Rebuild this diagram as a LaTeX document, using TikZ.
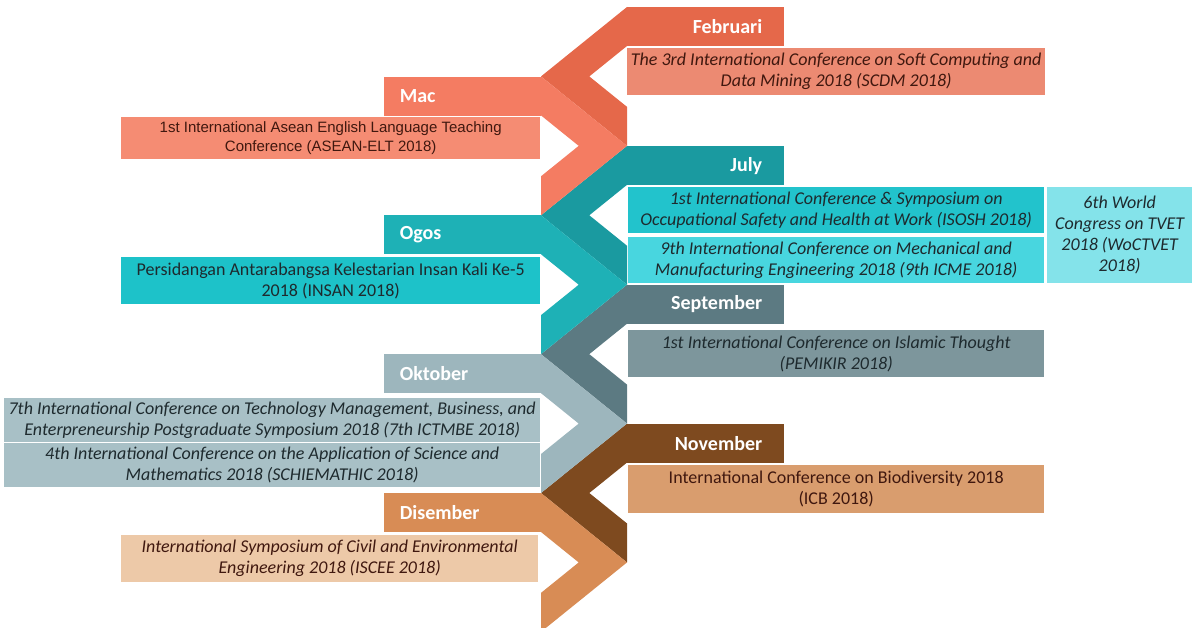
\documentclass[tikz,border=0pt]{standalone}
\usepackage{fontspec}
\setmainfont{Carlito}
\newfontfamily\arialfont{Liberation Sans}
\usetikzlibrary{positioning}

\definecolor{febC}{HTML}{E5684A}
\definecolor{macC}{HTML}{F47C62}
\definecolor{julC}{HTML}{1A9AA0}
\definecolor{ogoC}{HTML}{1EB1B6}
\definecolor{sepC}{HTML}{5C7A82}
\definecolor{oktC}{HTML}{9DB6BD}
\definecolor{novC}{HTML}{7E4A1F}
\definecolor{disC}{HTML}{D88C55}
\definecolor{febbox}{HTML}{EC8A72}
\definecolor{macbox}{HTML}{F58C73}
\definecolor{julboxA}{HTML}{22C3CC}
\definecolor{julboxB}{HTML}{48D6DF}
\definecolor{wocbox}{HTML}{84E3EA}
\definecolor{ogobox}{HTML}{1DC2C9}
\definecolor{sepbox}{HTML}{7D969C}
\definecolor{oktbox}{HTML}{A8C0C6}
\definecolor{novbox}{HTML}{D99D6E}
\definecolor{disbox}{HTML}{EDC9A8}
\definecolor{warmtext}{HTML}{40180F}
\definecolor{coldtext}{HTML}{1E2A2E}

\begin{document}
\begin{tikzpicture}[
  x=1pt, y=-1pt,
  mtab/.style={minimum height=39pt, minimum width=157pt, inner sep=0pt,
    font=\fontsize{20}{22}\selectfont\bfseries, text=white},
  rtab/.style={mtab, anchor=north west, text width=113pt, inner xsep=22pt, align=right},
  ltab/.style={mtab, anchor=north east, text width=125pt, inner xsep=16pt, align=left},
  ebox/.style={anchor=north west, inner sep=0pt, align=center, text=coldtext,
    font=\fontsize{18}{21}\selectfont\itshape},
  upbox/.style={ebox, font=\fontsize{18}{21}\selectfont},
]
  \useasboundingbox (0,0) rectangle (1195,628);
  \clip (0,0) rectangle (1195,628);
  \def\leftx{541}
  \def\rightx{627}
  \def\period{69.43}
  \def\bandh{39}
  \def\notch{48.3}
  % Chevrons with the tab on the right: point on the left column edge
  \foreach \k/\c in {0/febC,2/julC,4/sepC,6/novC} {
    \pgfmathsetmacro\yy{7+\period*\k}
    \fill[\c] (\rightx,\yy) -- (\leftx,\yy+\period) -- (\rightx,\yy+2*\period)
      -- (\rightx,\yy+2*\period-\bandh) -- (\leftx+\notch,\yy+\period)
      -- (\rightx,\yy+\bandh) -- cycle;
  }
  % Chevrons with the tab on the left: point on the right column edge
  \foreach \k/\c in {1/macC,3/ogoC,5/oktC,7/disC} {
    \pgfmathsetmacro\yy{7+\period*\k}
    \fill[\c] (\leftx,\yy) -- (\rightx,\yy+\period) -- (\leftx,\yy+2*\period)
      -- (\leftx,\yy+2*\period-\bandh) -- (\rightx-\notch,\yy+\period)
      -- (\leftx,\yy+\bandh) -- cycle;
  }
  % Month tabs
  \node[rtab, fill=febC] (feb) at (\rightx,7)      {Februari};
  \node[ltab, fill=macC] (mac) at (\leftx,76.43)   {Mac};
  \node[rtab, fill=julC] (jul) at (\rightx,145.86) {July};
  \node[ltab, fill=ogoC] (ogo) at (\leftx,215.29)  {Ogos};
  \node[rtab, fill=sepC] (sep) at (\rightx,284.72) {September};
  \node[ltab, fill=oktC] (okt) at (\leftx,354.15)  {Oktober};
  \node[rtab, fill=novC] (nov) at (\rightx,423.58) {November};
  \node[ltab, fill=disC] (dis) at (\leftx,493.01)  {Disember};
  % Conference boxes
  \node[ebox, fill=febbox, text=warmtext, minimum width=418pt, minimum height=47pt] (febbox) at (627,48)
    {The 3rd International Conference on Soft Computing and\\Data Mining 2018 (SCDM 2018)};
  \node[ebox, fill=macbox, text=warmtext, minimum width=419pt, minimum height=42pt,
    font=\fontsize{15}{19}\selectfont\arialfont] (macbox) at (121,117)
    {1st International Asean English Language Teaching\\Conference (ASEAN-ELT 2018)};
  \node[ebox, fill=julboxA, minimum width=416pt, minimum height=46pt] (julboxA) at (628,187)
    {1st International Conference \& Symposium on\\Occupational Safety and Health at Work (ISOSH 2018)};
  \node[ebox, fill=julboxB, minimum width=416pt, minimum height=46pt] (julboxB) at (628,237)
    {9th International Conference on Mechanical and\\Manufacturing Engineering 2018 (9th ICME 2018)};
  \node[ebox, fill=wocbox, minimum width=145pt, minimum height=96pt] (wocbox) at (1047,187)
    {6th World\\Congress on TVET\\2018 (WoCTVET\\2018)};
  \node[upbox, fill=ogobox, minimum width=419pt, minimum height=47pt] (ogobox) at (121,257)
    {Persidangan Antarabangsa Kelestarian Insan Kali Ke-5\\2018 (INSAN 2018)};
  \node[ebox, fill=sepbox, minimum width=416pt, minimum height=47pt] (sepbox) at (628,330)
    {1st International Conference on Islamic Thought\\(PEMIKIR 2018)};
  \node[ebox, fill=oktbox, minimum width=536pt, minimum height=44pt] (oktboxA) at (4,398)
    {7th International Conference on Technology Management, Business, and\\Enterpreneurship Postgraduate Symposium 2018 (7th ICTMBE 2018)};
  \node[ebox, fill=oktbox, minimum width=536pt, minimum height=44pt] (oktboxB) at (4,443)
    {4th International Conference on the Application of Science and\\Mathematics 2018 (SCHIEMATHIC 2018)};
  \node[upbox, fill=novbox, text=warmtext, minimum width=416pt, minimum height=48pt] (novbox) at (628,465)
    {International Conference on Biodiversity 2018\\(ICB 2018)};
  \node[ebox, fill=disbox, text=warmtext, minimum width=417pt, minimum height=47pt] (disbox) at (121,535)
    {International Symposium of Civil and Environmental\\Engineering 2018 (ISCEE 2018)};
\end{tikzpicture}
\end{document}
